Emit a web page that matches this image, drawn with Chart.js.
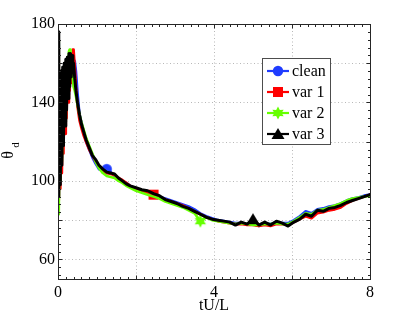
<!DOCTYPE html>
<html>
<head>
<meta charset="utf-8">
<script src="https://cdn.jsdelivr.net/npm/chart.js@4/dist/chart.umd.min.js"></script>
<style>
html,body{margin:0;padding:0;background:#fff;}
#wrap{width:409px;height:315px;position:relative;}
</style>
</head>
<body>
<div id="wrap"><canvas id="c" width="409" height="315"></canvas></div>
<script>
// ---- data ----
const T = [0,0.02,0.04,0.06,0.08,0.10,0.12,0.14,0.16,0.18,0.20,0.22,0.24,0.26,0.28,0.30,0.32,0.34,0.36,0.38,0.40,
  0.43,0.46,0.50,0.55,0.60,0.66,0.72,0.80,0.88,0.96,
  1.05,1.15,1.25,1.35,1.45,1.55,1.65,1.75,1.85,
  2.0,2.15,2.3,2.45,2.6,2.75,2.9,3.05,3.2,3.35,3.5,3.65,3.8,3.95,4.1,4.25,4.4,4.55,4.7,4.85,5.0,5.15,5.3,5.45,5.6,5.75,5.9,6.05,6.2,6.35,6.5,6.65,6.8,6.95,7.1,7.25,7.4,7.55,7.7,7.85,8.0];

const clean = [170,95,145,105,150,112,155,122,157,130,158,138,160,144,161,150,162,155,163,160,162,
  161,156,145,134,130,125,120,116,112,109,
  106,105.5,106,104.5,102.5,101,100,99,97.5,
  96,95,94,93,92,91,90,89,88,87,85.5,83.5,82,81,80,79.5,79,78.5,78.5,78,78,77,78.5,78,79,78.5,78.5,80,82,84.5,83.5,85.5,86,87,87.5,88.5,90,91,91.5,92.5,93];

const var1 = [168,90,140,96,146,104,150,114,154,124,156,132,158,140,160,146,162,150,164,167,167,
  158,148,138,131,127,123,120,116,113,110,
  107.5,105,104,103.5,103,101.5,100.5,99,97.5,
  96,95,94,93,92,90.5,89.5,88.5,87.5,86,84.5,83,81.5,80.5,79.5,79,78.5,78,78,77.5,77.5,77,77.5,77,78,78,77.5,79,80.5,82,81,83.5,84,85,85.5,86.5,88.5,90,91,92,93];

const var2 = [172,83,138,100,148,110,152,120,156,130,160,140,163,148,166,167,167,160,158,152,148,
  146,143,139,134,130,126,122,118,114,110,
  106.5,104,102.5,102,101.5,100,99,97.5,96.5,
  95,94,93,92,91,89.5,88.5,87.5,86.5,85,83.5,79.5,81.5,80,79.5,79,78.5,78,78.5,78,77.5,77.5,78,78,78.5,78,78,79.5,81.5,83.5,83,85,85.5,86.5,87.5,88.5,90,91,91.5,92,92.5];

const var3 = [176,92,150,98,156,108,158,118,160,128,162,136,163,142,165,148,165,153,164,158,160,
  152,146,140,134,129,125,121,117,113,111,
  108,106,104.5,104,103.5,101.5,100,98.5,97.5,
  96.5,95.5,95,93.5,92.5,90.5,89.5,88.5,87,86,84.5,83,81.5,80.5,80,79.5,79,77.5,79,78,80.5,77.5,79,77.5,79.5,78.5,77,79,80.5,83,82,85,84.5,86,86.5,87.5,89,90,91,92,93];

const SERIES_LABELS = ['clean','var 1','var 2','var 3'];
const MARKER_INDEX = [33, 43, 51, 60];
const X_TICKS = [0,4,8];
const X_GRID = [2,4,6];
const Y_TICKS = [60,100,140,180];
const Y_GRID = [60,80,100,120,140,160];
const X_LABEL = 'tU/L';
const Y_LABEL = 'θ';
const Y_LABEL_SUB = 'd';

// ---- styles ----
const COLORS = ['#1f3cff','#ff0000','#66ff00','#000000'];
const WIDTHS = [2.6,2.6,2.6,3];
const FONT = '"Liberation Serif", "Times New Roman", serif';

function makeMarker(kind, color){
  const s = 14;
  const c = document.createElement('canvas');
  c.width = s; c.height = s;
  const g = c.getContext('2d');
  g.fillStyle = color; g.strokeStyle = color; g.lineWidth = 1;
  const m = s/2;
  g.beginPath();
  if(kind==='circle'){ g.arc(m,m,5.2,0,Math.PI*2); }
  else if(kind==='square'){ g.rect(m-5,m-5,10,10); }
  else if(kind==='hexagram'){
    for(let i=0;i<12;i++){
      const r = (i%2===0)?6.5:3.6;
      const a = -Math.PI/2 + i*Math.PI/6;
      const px = m + r*Math.cos(a), py = m + r*Math.sin(a);
      if(i===0) g.moveTo(px,py); else g.lineTo(px,py);
    }
    g.closePath();
  } else if(kind==='triangle'){
    g.moveTo(m,m-6); g.lineTo(m+6.5,m+5); g.lineTo(m-6.5,m+5); g.closePath();
  }
  g.fill();
  return c;
}
const MARKERS = [makeMarker('circle',COLORS[0]),makeMarker('square',COLORS[1]),makeMarker('hexagram',COLORS[2]),makeMarker('triangle',COLORS[3])];

const SERIES = [clean,var1,var2,var3];
const datasets = SERIES.map((ys,k)=>({
  label: SERIES_LABELS[k],
  data: T.map((x,i)=>({x:x,y:ys[i]})),
  borderColor: COLORS[k],
  backgroundColor: COLORS[k],
  borderWidth: WIDTHS[k],
  tension: 0,
  fill: false,
  order: 3-k,
  pointStyle: MARKERS[k],
  pointRadius: (ctx)=> ctx.dataIndex===MARKER_INDEX[k] ? 6 : 0,
  pointHoverRadius: 0,
  borderJoinStyle: 'round',
  borderCapStyle: 'round'
}));

const frame = {
  id:'frame',
  beforeDatasetsDraw(chart){
    const {ctx, chartArea:a, scales:{x,y}} = chart;
    ctx.save();
    ctx.strokeStyle = '#b8b8b8'; ctx.lineWidth = 1; ctx.setLineDash([1,2.5]);
    X_GRID.forEach(v=>{ const px=Math.round(x.getPixelForValue(v))+0.5; ctx.beginPath(); ctx.moveTo(px,a.top); ctx.lineTo(px,a.bottom); ctx.stroke(); });
    Y_GRID.forEach(v=>{ const py=Math.round(y.getPixelForValue(v))+0.5; ctx.beginPath(); ctx.moveTo(a.left,py); ctx.lineTo(a.right,py); ctx.stroke(); });
    ctx.restore();
  },
  afterDatasetsDraw(chart){
    const {ctx, chartArea:a, scales:{x,y}} = chart;
    ctx.save();
    ctx.strokeStyle = '#262626'; ctx.lineWidth = 1; ctx.setLineDash([]);
    const L=Math.round(a.left)+0.5, R=Math.round(a.right)+0.5, Tp=Math.round(a.top)+0.5, B=Math.round(a.bottom)+0.5;
    ctx.strokeRect(L,Tp,R-L,B-Tp);
    ctx.beginPath();
    for(let v=0; v<=8.0001; v+=0.2){
      const px=Math.round(x.getPixelForValue(v))+0.5;
      const major = Math.abs(v/2-Math.round(v/2))<1e-6;
      const len = major?4:2.5;
      ctx.moveTo(px,B); ctx.lineTo(px,B-len);
      ctx.moveTo(px,Tp); ctx.lineTo(px,Tp+len);
    }
    for(let v=52; v<=180.0001; v+=4){
      const py=Math.round(y.getPixelForValue(v))+0.5;
      const major = (v%20===0);
      const len = major?4:2.5;
      ctx.moveTo(L,py); ctx.lineTo(L+len,py);
      ctx.moveTo(R,py); ctx.lineTo(R-len,py);
    }
    ctx.stroke();
    ctx.restore();
  },
  afterDraw(chart){
    const {ctx, chartArea:a} = chart;
    ctx.save();
    ctx.fillStyle = '#000';
    ctx.font = '16px '+FONT;
    ctx.textAlign='center'; ctx.textBaseline='middle';
    ctx.fillText(X_LABEL,(a.left+a.right)/2,306);
    // y label theta_d
    ctx.save(); ctx.translate(9,155); ctx.rotate(-Math.PI/2);
    ctx.font = '16px '+FONT; ctx.fillText(Y_LABEL,0,0); ctx.restore();
    ctx.save(); ctx.translate(16,145); ctx.rotate(-Math.PI/2);
    ctx.font = '11px '+FONT; ctx.fillText(Y_LABEL_SUB,0,0); ctx.restore();
    // legend
    const bx=262.5, by=58.5, bw=68, bh=86;
    ctx.fillStyle='#fff'; ctx.fillRect(bx,by,bw,bh);
    ctx.strokeStyle='#4d4d4d'; ctx.lineWidth=1; ctx.strokeRect(bx,by,bw,bh);
    const rows=[71,92,113,134];
    chart.data.datasets.forEach((ds,k)=>{
      const yy=rows[k];
      ctx.strokeStyle=ds.borderColor; ctx.lineWidth=2.2;
      ctx.beginPath(); ctx.moveTo(267,yy); ctx.lineTo(289,yy); ctx.stroke();
      const img=MARKERS[k];
      ctx.drawImage(img,278-img.width/2,yy-img.height/2);
      ctx.fillStyle='#000'; ctx.font='16px '+FONT; ctx.textAlign='left'; ctx.textBaseline='middle';
      ctx.fillText(ds.label,292,yy+1);
    });
    ctx.restore();
  }
};

new Chart(document.getElementById('c'),{
  type:'line',
  data:{datasets:datasets},
  options:{
    responsive:false,
    animation:false,
    events:[],
    layout:{padding:{left:0,top:24,right:39,bottom:0}},
    plugins:{legend:{display:false},tooltip:{enabled:false}},
    scales:{
      x:{type:'linear',min:0,max:8,
        afterBuildTicks:(s)=>{s.ticks=X_TICKS.map(v=>({value:v}));},
        afterFit:(s)=>{s.height=36;},
        grid:{display:false,drawTicks:false},
        border:{display:false},
        ticks:{color:'#000',font:{family:FONT,size:16},padding:4,maxRotation:0,autoSkip:false}
      },
      y:{type:'linear',min:50,max:180,
        afterBuildTicks:(s)=>{s.ticks=Y_TICKS.map(v=>({value:v}));},
        afterFit:(s)=>{s.width=58;},
        grid:{display:false,drawTicks:false},
        border:{display:false},
        ticks:{color:'#000',font:{family:FONT,size:16},padding:3,autoSkip:false}
      }
    }
  },
  plugins:[frame]
});
</script>
</body>
</html>
